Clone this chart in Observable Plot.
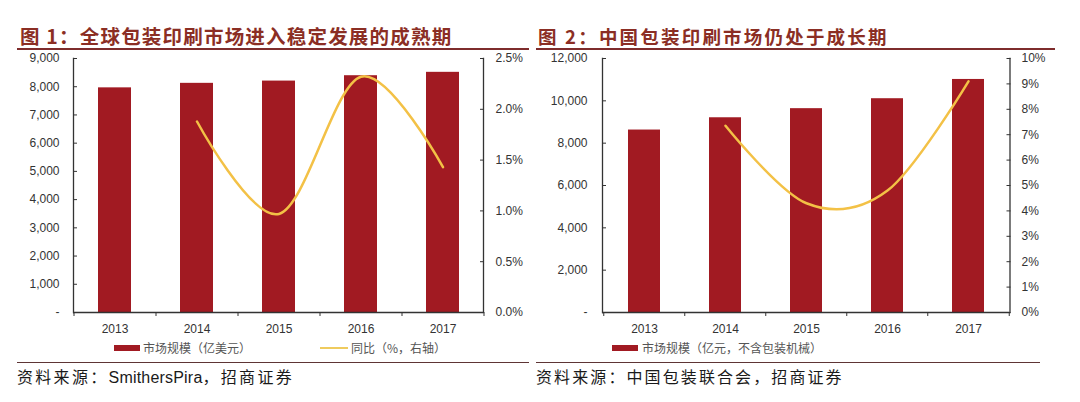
<!DOCTYPE html>
<html><head><meta charset="utf-8">
<script src="https://cdn.jsdelivr.net/npm/d3@7"></script>
<script src="https://cdn.jsdelivr.net/npm/@observablehq/plot@0.6"></script>
<style>
html,body{margin:0;padding:0;background:#fff}
body{width:1080px;height:402px;overflow:hidden;position:relative;font-family:"Noto Sans CJK SC","Noto Sans",sans-serif}
.title{position:absolute;top:26px;line-height:20px;font-weight:700;color:#8B2E24;white-space:nowrap}
.rule{position:absolute;height:0}
.source{position:absolute;top:368px;line-height:20px;font-size:16px;color:#1a1a1a;white-space:nowrap;font-family:"Liberation Sans","Noto Sans CJK SC",sans-serif}
.source .lat{letter-spacing:0.2px}
.chart{position:absolute;top:50px}
.sw{position:absolute}
.lgt{position:absolute;top:340px;line-height:16px;font-size:12px;color:#555;white-space:nowrap}
</style></head>
<body>
<div class="title" style="left:20px;font-size:19.5px;letter-spacing:1.2px">图 1：全球包装印刷市场进入稳定发展的成熟期</div>
<div class="rule" style="left:17px;width:512px;top:48px;border-top:2px solid #7E2C2C"></div>
<div class="title" style="left:538px;font-size:18.5px;letter-spacing:2.2px">图 2：中国包装印刷市场仍处于成长期</div>
<div class="rule" style="left:536px;width:519px;top:48px;border-top:2px solid #7E2C2C"></div>

<div id="c1" class="chart" style="left:0px"></div>
<div id="c2" class="chart" style="left:530px"></div>

<div class="sw" style="left:114px;top:345px;width:26px;height:6px;background:#A11A22"></div>
<div class="lgt" style="left:143px">市场规模（亿美元）</div>
<div class="sw" style="left:320px;top:347px;width:28px;height:2px;background:#EFCB5E"></div>
<div class="lgt" style="left:351px">同比（%，右轴）</div>
<div class="sw" style="left:612px;top:345px;width:26px;height:6px;background:#A11A22"></div>
<div class="lgt" style="left:642px">市场规模（亿元，不含包装机械）</div>

<div class="rule" style="left:17px;width:512px;top:362px;border-top:1.5px solid #5E3535"></div>
<div class="rule" style="left:536px;width:504px;top:362px;border-top:1.5px solid #5E3535"></div>
<div class="source" style="left:17px;letter-spacing:2.3px">资料来源：<span class="lat">SmithersPira</span>，招商证券</div>
<div class="source" style="left:536px;letter-spacing:2.1px">资料来源：中国包装联合会，招商证券</div>

<script>
// ---- data ----
const years = ["2013", "2014", "2015", "2016", "2017"];
const growthYears = ["2014", "2015", "2016", "2017"];
const globalSize = [7960, 8120, 8200, 8390, 8510];          // 亿美元
const globalGrowth = [1.88, 0.97, 2.32, 1.43];              // %
const chinaSize = [8620, 9200, 9630, 10100, 11010];         // 亿元
const chinaGrowth = [7.35, 4.3, 4.8, 9.1];                  // %
const globalTicks = [0, 1000, 2000, 3000, 4000, 5000, 6000, 7000, 8000, 9000];
const globalPctTicks = [0, 0.5, 1.0, 1.5, 2.0, 2.5];
const chinaTicks = [0, 2000, 4000, 6000, 8000, 10000, 12000];
const chinaPctTicks = [0, 1, 2, 3, 4, 5, 6, 7, 8, 9, 10];

const barColor = "#A11A22";
const lineColor = "#F3C146";
const axisColor = "#333";

function makeChart(cfg) {
  const W = 540, H = 290, mt = 8, mb = 28;
  const ratio = cfg.yMax / cfg.pctMax;
  const step = (W - cfg.ml - cfg.mr) / years.length;
  const bars = years.map((y, i) => ({year: y, value: cfg.sizes[i]}));
  const line = growthYears.map((y, i) => ({year: y, g: cfg.growth[i]}));
  const fmtL = d => d === 0 ? "-" : d3.format(",")(d);
  return Plot.plot({
    width: W, height: H,
    marginTop: mt, marginBottom: mb, marginLeft: cfg.ml, marginRight: cfg.mr,
    style: {fontFamily: '"Liberation Sans", Arial, sans-serif', fontSize: "12px", color: "#333", background: "#fff", overflow: "visible"},
    x: {domain: years, paddingInner: 0.6, paddingOuter: 0.3, align: 0.5, label: null},
    y: {domain: [0, cfg.yMax], label: null},
    marks: [
      Plot.barY(bars, {x: "year", y: "value", fill: barColor}),
      Plot.line(line, {x: "year", y: d => d.g * ratio, stroke: lineColor, strokeWidth: 2.5, curve: "cardinal", tension: 0}),
      Plot.ruleY([0], {stroke: axisColor, strokeWidth: 1.3}),
      Plot.frame({anchor: "left", stroke: axisColor, strokeWidth: 1.3}),
      Plot.frame({anchor: "right", stroke: axisColor, strokeWidth: 1.3}),
      Plot.ruleX(years, {x: d => d, y1: 0, y2: 0, dx: -step / 2, insetBottom: -4, stroke: axisColor}),
      Plot.ruleX([years[years.length - 1]], {x: d => d, y1: 0, y2: 0, dx: step / 2, insetBottom: -4, stroke: axisColor}),
      Plot.axisY(cfg.ticks, {anchor: "left", tickSize: -4, tickPadding: cfg.padL, tickFormat: fmtL, label: null, stroke: axisColor}),
      Plot.axisY(cfg.pctTicks.map(p => p * ratio), {anchor: "right", tickSize: -4, tickPadding: cfg.padR, tickFormat: d => cfg.pctFmt(d / ratio), label: null, stroke: axisColor}),
      Plot.axisX({tickSize: 0, tickPadding: 12, label: null})
    ]
  });
}

document.getElementById("c1").append(makeChart({
  sizes: globalSize, growth: globalGrowth, yMax: 9000, pctMax: 2.5,
  ticks: globalTicks, pctTicks: globalPctTicks, pctFmt: p => p.toFixed(1) + "%",
  ml: 73, mr: 57, padL: 18, padR: 16
}));
document.getElementById("c2").append(makeChart({
  sizes: chinaSize, growth: chinaGrowth, yMax: 12000, pctMax: 10,
  ticks: chinaTicks, pctTicks: chinaPctTicks, pctFmt: p => Math.round(p) + "%",
  ml: 72, mr: 60.5, padL: 19, padR: 15.5
}));
</script>
</body></html>
